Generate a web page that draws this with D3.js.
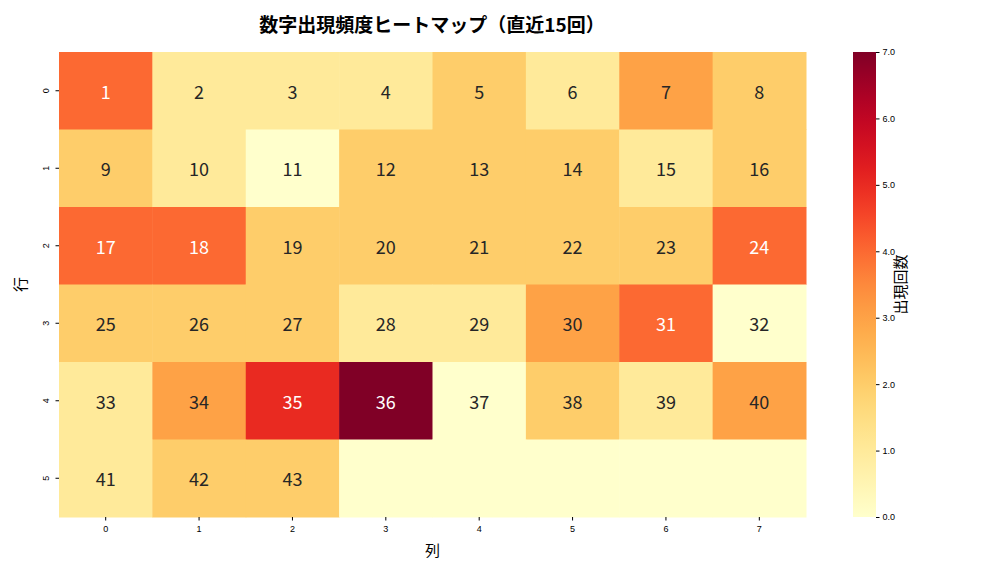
<!DOCTYPE html>
<html><head><meta charset="utf-8">
<script src="https://cdn.jsdelivr.net/npm/d3@7"></script>
<style>body{margin:0;background:#fff;font-family:"Noto Sans CJK JP","DejaVu Sans",sans-serif;}</style>
</head><body><div id="chart"></div>
<script>
const rowLabels = ["0","1","2","3","4","5"];
const colLabels = ["0","1","2","3","4","5","6","7"];
// occurrence counts per cell (row-major)
const counts = [
  [4,1,1,1,2,1,3,2],
  [2,1,0,2,2,2,1,2],
  [4,4,2,2,2,2,2,4],
  [2,2,2,1,1,3,4,0],
  [1,3,5,7,0,2,1,3],
  [1,2,2,0,0,0,0,0]
];
const numbers = [
  [1,2,3,4,5,6,7,8],
  [9,10,11,12,13,14,15,16],
  [17,18,19,20,21,22,23,24],
  [25,26,27,28,29,30,31,32],
  [33,34,35,36,37,38,39,40],
  [41,42,43,null,null,null,null,null]
];
const cbTicks = [0,1,2,3,4,5,6,7];

const W = 1008, H = 576;
const mLeft = 59, mRight = 806, mTop = 52, mBottom = 517;
const svg = d3.select("#chart").append("svg").attr("width", W).attr("height", H);
const color = d3.scaleSequential(d3.interpolateYlOrRd).domain([0, 7]);
const x = d3.scaleBand().domain(colLabels).range([mLeft, mRight]);
const y = d3.scaleBand().domain(rowLabels).range([mTop, mBottom]);

const cells = [];
counts.forEach((row, i) => row.forEach((v, j) => cells.push({r: rowLabels[i], c: colLabels[j], v, n: numbers[i][j]})));

svg.selectAll("rect.cell").data(cells).enter().append("rect")
  .attr("x", d => x(d.c)).attr("y", d => y(d.r))
  .attr("width", x.bandwidth() + 0.5).attr("height", y.bandwidth() + 0.5)
  .attr("fill", d => color(d.v));

svg.selectAll("text.num").data(cells.filter(d => d.n !== null)).enter().append("text")
  .attr("x", d => x(d.c) + x.bandwidth() / 2).attr("y", d => y(d.r) + y.bandwidth() / 2)
  .attr("text-anchor", "middle").attr("dominant-baseline", "central")
  .style("font-size", "18px")
  .attr("fill", d => d.v >= 4 ? "#fff" : "#262626")
  .text(d => d.n);

svg.append("g").attr("transform", `translate(0,${mBottom})`)
  .call(d3.axisBottom(x).tickSize(3.5))
  .call(g => g.select(".domain").remove())
  .selectAll("text").style("font-size", "9px").attr("dy", "0.9em");
svg.append("g").attr("transform", `translate(${mLeft},0)`)
  .call(d3.axisLeft(y).tickSize(3.5))
  .call(g => g.select(".domain").remove())
  .selectAll("text").style("font-size", "9px")
  .attr("x", 0).attr("dy", 0).attr("text-anchor", "middle")
  .attr("transform", "translate(-10,0) rotate(-90)");

// colorbar
const cbX = 853, cbW = 23;
const cy = d3.scaleLinear().domain([0, 7]).range([mBottom, mTop]);
const grad = svg.append("defs").append("linearGradient").attr("id", "cb")
  .attr("x1", 0).attr("y1", 1).attr("x2", 0).attr("y2", 0);
d3.range(0, 1.0001, 0.05).forEach(t => grad.append("stop").attr("offset", t).attr("stop-color", color(t * 7)));
svg.append("rect").attr("x", cbX).attr("y", mTop).attr("width", cbW).attr("height", mBottom - mTop).attr("fill", "url(#cb)");
svg.append("g").attr("transform", `translate(${cbX + cbW},0)`)
  .call(d3.axisRight(cy).tickValues(cbTicks).tickSize(3.5))
  .call(g => g.select(".domain").remove())
  .selectAll("text").style("font-size", "9px");
svg.append("text").attr("transform", `translate(906,${(mTop + mBottom) / 2}) rotate(-90)`)
  .attr("text-anchor", "middle").style("font-size", "15px").text("出現回数");

svg.append("text").attr("x", 432).attr("y", 32).attr("text-anchor", "middle")
  .style("font-size", "19px").style("font-weight", "bold").text("数字出現頻度ヒートマップ（直近15回）");
svg.append("text").attr("x", (mLeft + mRight) / 2).attr("y", 556).attr("text-anchor", "middle")
  .style("font-size", "15px").text("列");
svg.append("text").attr("transform", `translate(26,${(mTop + mBottom) / 2}) rotate(-90)`)
  .attr("text-anchor", "middle").style("font-size", "15px").text("行");
</script></body></html>
